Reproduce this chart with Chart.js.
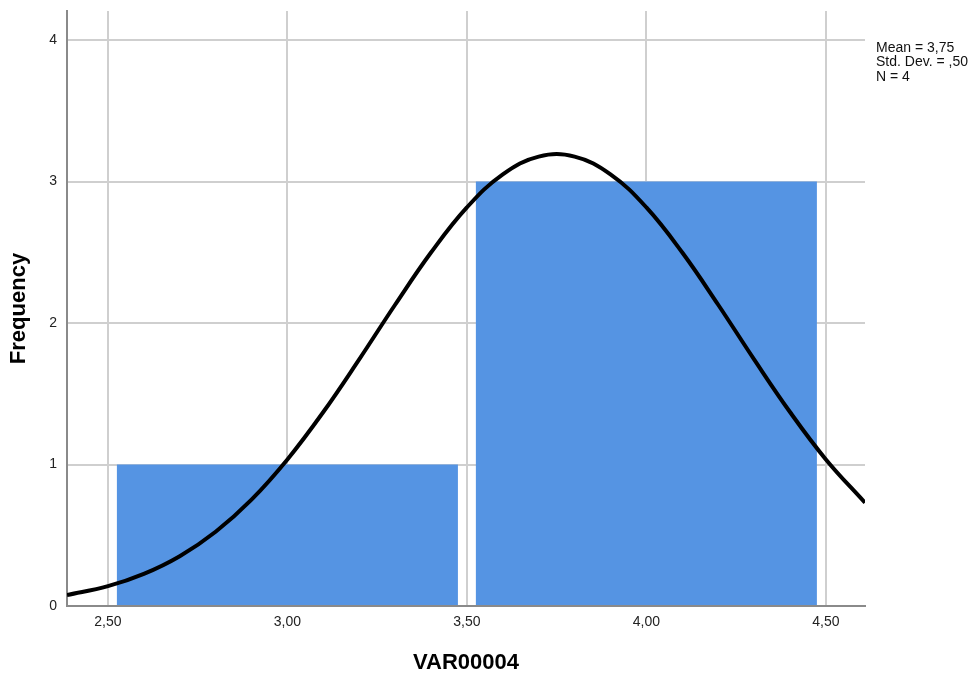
<!DOCTYPE html>
<html>
<head>
<meta charset="utf-8">
<script src="https://cdn.jsdelivr.net/npm/chart.js@4/dist/chart.umd.min.js"></script>
<style>
  html, body { margin: 0; padding: 0; background: #ffffff; }
  canvas { display: block; }
</style>
</head>
<body>
<canvas id="histogram" width="979" height="679"></canvas>
<script>
// Histogram bins (centre of each bin, bin width 1) and their frequencies
const binCenters = [3.0, 4.0];
const binCounts = [1, 3];

// Fitted normal curve, sampled along the x range
const curveX = [2.386, 2.5, 2.6, 2.7, 2.8, 2.9, 3.0, 3.1, 3.2, 3.3, 3.4, 3.5, 3.6, 3.7,
                3.8, 3.9, 4.0, 4.1, 4.2, 4.3, 4.4, 4.5, 4.609];
const curveY = [0.077, 0.140, 0.227, 0.352, 0.525, 0.752, 1.036, 1.371, 1.743, 2.129, 2.498, 2.817, 3.051, 3.176,
                3.176, 3.051, 2.817, 2.498, 2.129, 1.743, 1.371, 1.036, 0.730];

// Axis ticks
const xTicks = [2.5, 3.0, 3.5, 4.0, 4.5];
const yTicks = [0, 1, 2, 3, 4];

// Summary statistics shown beside the plot
const statsLines = ['Mean = 3,75', 'Std. Dev. = ,50', 'N = 4'];

const xRange = { min: 2.386, max: 4.609 };
const yRange = { min: 0, max: 4.205 };

const statsPlugin = {
  id: 'statsText',
  afterDraw(chart) {
    const ctx = chart.ctx;
    ctx.save();
    ctx.fillStyle = '#111111';
    ctx.font = '14px "Liberation Sans", Arial, sans-serif';
    ctx.textAlign = 'left';
    ctx.textBaseline = 'alphabetic';
    const x = chart.chartArea.right + 11;
    statsLines.forEach((line, i) => {
      ctx.fillText(line, x, 51.5 + i * 14.5);
    });
    ctx.restore();
  }
};

const tickFont = { family: '"Liberation Sans", Arial, sans-serif', size: 14 };
const titleFont = { family: '"Liberation Sans", Arial, sans-serif', size: 22, weight: 'bold' };

new Chart(document.getElementById('histogram'), {
  type: 'line',
  data: {
    datasets: [
      {
        type: 'line',
        label: 'Normal',
        data: curveX.map((x, i) => ({ x: x, y: curveY[i] })),
        borderColor: '#000000',
        borderWidth: 4,
        pointRadius: 0,
        fill: false,
        tension: 0.4,
        order: 0
      },
      {
        type: 'bar',
        label: 'Frequency',
        data: binCenters.map((x, i) => ({ x: x, y: binCounts[i] })),
        backgroundColor: '#5594e3',
        borderWidth: 0,
        barPercentage: 1.9,
        categoryPercentage: 1.0,
        order: 1
      }
    ]
  },
  options: {
    responsive: false,
    animation: false,
    events: [],
    layout: { padding: { left: 0, right: 114, top: 11, bottom: 0 } },
    plugins: {
      legend: { display: false },
      tooltip: { enabled: false }
    },
    scales: {
      x: {
        type: 'linear',
        min: xRange.min,
        max: xRange.max,
        offset: false,
        afterBuildTicks(scale) { scale.ticks = xTicks.map(v => ({ value: v })); },
        afterFit(scale) { scale.height = 73; },
        ticks: {
          autoSkip: false,
          maxRotation: 0,
          padding: 8,
          color: '#222222',
          font: tickFont,
          callback: (v) => Number(v).toFixed(2).replace('.', ',')
        },
        grid: { color: '#cfcfcf', lineWidth: 2, drawTicks: false, offset: false },
        border: { display: true, color: '#8a8a8a', width: 2 },
        title: { display: true, text: 'VAR00004', color: '#000000', font: titleFont, padding: { top: 0, bottom: 3 } }
      },
      y: {
        type: 'linear',
        min: yRange.min,
        max: yRange.max,
        afterBuildTicks(scale) { scale.ticks = yTicks.map(v => ({ value: v })); },
        afterFit(scale) {
          scale.width = 67;
          scale.paddingTop = 0;
          scale.paddingBottom = 0;
        },
        ticks: {
          padding: 10,
          color: '#222222',
          font: tickFont,
          callback: (v) => String(v)
        },
        grid: { color: '#cfcfcf', lineWidth: 2, drawTicks: false },
        border: { display: true, color: '#8a8a8a', width: 2 },
        title: { display: true, text: 'Frequency', color: '#000000', font: titleFont, padding: { top: 6, bottom: 0 } }
      }
    }
  },
  plugins: [statsPlugin]
});
</script>
</body>
</html>
